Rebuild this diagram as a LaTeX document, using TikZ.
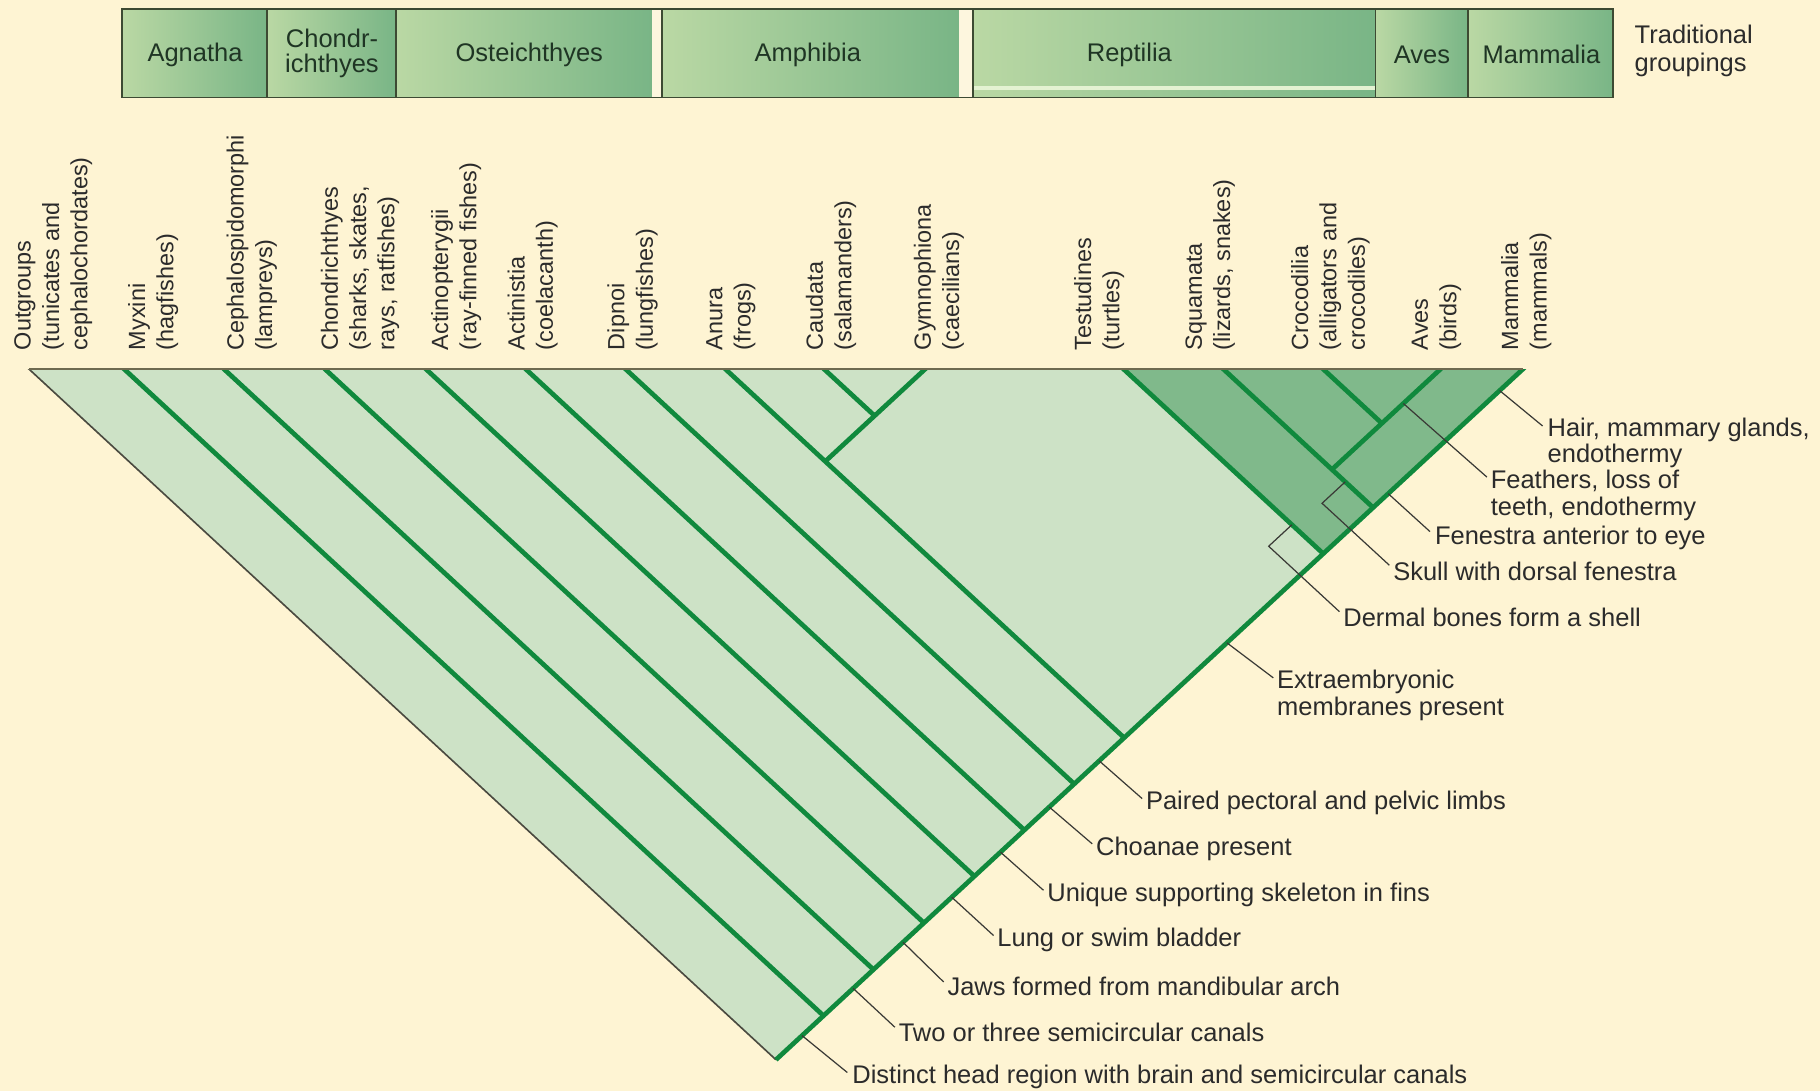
\documentclass[tikz,border=0pt]{standalone}
\usepackage{fontspec}
\setmainfont{Liberation Sans}
\usetikzlibrary{calc}
\definecolor{bg}{HTML}{FEF4D3}
\definecolor{lightfill}{HTML}{CDE2C6}
\definecolor{darkfill}{HTML}{80B98B}
\definecolor{branchc}{HTML}{10893D}
\definecolor{topedgec}{HTML}{6E6A50}
\definecolor{outc}{HTML}{4A4A40}
\definecolor{leadc}{HTML}{3A3A36}
\definecolor{textc}{HTML}{2B2B2B}
\definecolor{cellb}{HTML}{3D4A33}
\definecolor{cellL}{HTML}{BAD8A4}
\definecolor{cellR}{HTML}{79B586}
\definecolor{celltext}{HTML}{1F3524}
\definecolor{stripec}{HTML}{FDF6DE}
\definecolor{stripeg}{HTML}{E4F2D2}
\begin{document}
\begin{tikzpicture}[x=0.02cm,y=-0.02cm,
  branch/.style={draw=branchc,line width=2.3pt,line cap=butt,line join=miter},
  leader/.style={draw=leadc,line width=0.6pt},
  taxon/.style={rotate=90,anchor=north west,inner sep=0pt,align=left,text=textc,font=\fontsize{11.5}{13.9}\selectfont},
  trait/.style={anchor=west,inner sep=0pt,align=left,text=textc,font=\fontsize{12.5}{13.1}\selectfont},
  grp/.style={inner sep=0pt,align=center,text=celltext,font=\fontsize{12.5}{12.5}\selectfont},
  cellfill/.style={left color=cellL,right color=cellR},
  cellline/.style={draw=cellb,line width=0.9pt}
]
\useasboundingbox (0,0) rectangle (1568,940);
\fill[bg] (0,0) rectangle (1568,940);

% ---------- traditional groupings bar ----------
\shade[cellfill] (105,8) rectangle (230,84);
\shade[cellfill] (230,8) rectangle (341,84);
\shade[cellfill] (341,8) rectangle (562,84);
\fill[stripec] (562,8) rectangle (570,84);
\shade[cellfill] (570,8) rectangle (826,84);
\fill[stripec] (826,8) rectangle (838,84);
\shade[cellfill] (838,8) rectangle (1185,84);
\fill[stripeg] (838,74) rectangle (1185,77.5);
\shade[cellfill] (1185,8) rectangle (1265,84);
\shade[cellfill] (1265,8) rectangle (1390,84);
\draw[cellline] (105,8) rectangle (1390,84);
\foreach \xx in {230,341,570,838,1185,1265} \draw[cellline] (\xx,8) -- (\xx,84);

\node[grp] (gAgn) at (168,47) {Agnatha};
\node[grp] (gCho) at (286,46) {Chondr-\\ichthyes};
\node[grp] (gOst) at (456,47) {Osteichthyes};
\node[grp] (gAmp) at (696,47) {Amphibia};
\node[grp] (gRep) at (973,47) {Reptilia};
\node[grp] (gAve) at (1225,47) {Aves};
\node[grp] (gMam) at (1328,47) {Mammalia};
\node[anchor=west,inner sep=0pt,align=left,text=textc,font=\fontsize{12.5}{13.6}\selectfont] (gTrad) at (1408,44) {Traditional\\groupings};

% ---------- taxon labels ----------
\node[taxon] (lOut) at (12,302) {Outgroups\\(tunicates and\\cephalochordates)};
\node[taxon] (lMyx) at (110,302) {Myxini\\(hagfishes)};
\node[taxon] (lCep) at (195,302) {Cephalospidomorphi\\(lampreys)};
\node[taxon] (lCho) at (276,302) {Chondrichthyes\\(sharks, skates,\\rays, ratfishes)};
\node[taxon] (lAct) at (371,302) {Actinopterygii\\(ray-finned fishes)};
\node[taxon] (lAcs) at (437,302) {Actinistia\\(coelacanth)};
\node[taxon] (lDip) at (523,302) {Dipnoi\\(lungfishes)};
\node[taxon] (lAnu) at (608,302) {Anura\\(frogs)};
\node[taxon] (lCau) at (694,302) {Caudata\\(salamanders)};
\node[taxon] (lGym) at (787,302) {Gymnophiona\\(caecilians)};
\node[taxon] (lTes) at (925,302) {Testudines\\(turtles)};
\node[taxon] (lSqu) at (1021,302) {Squamata\\(lizards, snakes)};
\node[taxon] (lCro) at (1112,302) {Crocodilia\\(alligators and\\crocodiles)};
\node[taxon] (lAve) at (1216,302) {Aves\\(birds)};
\node[taxon] (lMam) at (1293,302) {Mammalia\\(mammals)};

% ---------- tree coordinates ----------
\coordinate (tOut) at (25,318);
\coordinate (tMyx) at (107,318);
\coordinate (tCep) at (193,318);
\coordinate (tCho) at (280,318);
\coordinate (tAct) at (367,318);
\coordinate (tAcs) at (453,318);
\coordinate (tDip) at (539,318);
\coordinate (tAnu) at (625,318);
\coordinate (tCau) at (710,318);
\coordinate (tGym) at (797,318);
\coordinate (tTes) at (968,318);
\coordinate (tSqu) at (1054,318);
\coordinate (tCro) at (1140,318);
\coordinate (tAve) at (1241,318);
\coordinate (tMam) at (1312,318);
\coordinate (nApex) at (668.5,913);
\coordinate (nMyx) at (709.5,875.1);
\coordinate (nCep) at (752.5,835.3);
\coordinate (nCho) at (796,795.1);
\coordinate (nAct) at (839.5,754.9);
\coordinate (nAcs) at (882.5,715.1);
\coordinate (nDip) at (925.5,675.4);
\coordinate (nAnu) at (968.5,635.6);
\coordinate (nLis) at (711,397.5);
\coordinate (nCG) at (753.5,358.2);
\coordinate (nTes) at (1140,477);
\coordinate (nSqu) at (1183,437.3);
\coordinate (nDia) at (1147.5,404.5);
\coordinate (nArc) at (1190.5,364.7);

% ---------- fills ----------
\fill[lightfill] (tOut) -- (tMam) -- (nApex) -- cycle;
\fill[darkfill] (tTes) -- (tMam) -- (nTes) -- cycle;

% ---------- branches ----------
\begin{scope}
\clip (0,318) rectangle (1568,940);
\draw[outc,line width=0.8pt] ($(tOut)!-6pt!(nApex)$) -- (nApex);
\draw[branch] (nApex) -- ($(tMam)!-8pt!(nApex)$);
\foreach \a/\b in {tMyx/nMyx,tCep/nCep,tCho/nCho,tAct/nAct,tAcs/nAcs,tDip/nDip,tAnu/nAnu,tCau/nCG,tGym/nLis,tTes/nTes,tSqu/nSqu,tCro/nArc,tAve/nDia}
  \draw[branch] ($(\a)!-6pt!(\b)$) -- (\b);
\end{scope}
\draw[topedgec,line width=1.1pt] (tOut) -- (tMam);

% ---------- character labels ----------
\node[trait] (cDis) at (734,928) {Distinct head region with brain and semicircular canals};
\node[trait] (cTwo) at (774,889) {Two or three semicircular canals};
\node[trait] (cJaw) at (816,850) {Jaws formed from mandibular arch};
\node[trait] (cLun) at (859,810) {Lung or swim bladder};
\node[trait] (cUni) at (902,771) {Unique supporting skeleton in fins};
\node[trait] (cCho) at (944,731) {Choanae present};
\node[trait] (cPai) at (987,692) {Paired pectoral and pelvic limbs};
\node[trait] (cExt) at (1100,599) {Extraembryonic\\membranes present};
\node[trait] (cDer) at (1157,532) {Dermal bones form a shell};
\node[trait] (cSku) at (1200,492) {Skull with dorsal fenestra};
\node[trait] (cFen) at (1236,463) {Fenestra anterior to eye};
\node[trait] (cFea) at (1284,426.5) {Feathers, loss of\\teeth, endothermy};
\node[trait] (cHai) at (1333,381.5) {Hair, mammary glands,\\endothermy};

% ---------- leaders ----------
\coordinate (sDis) at (691,892.2);   \coordinate (eDis) at (730,924);
\coordinate (sTwo) at (735,851.5);   \coordinate (eTwo) at (771,885);
\coordinate (sJaw) at (778,811.8);   \coordinate (eJaw) at (813,846);
\coordinate (sLun) at (820,773);     \coordinate (eLun) at (856,806);
\coordinate (sUni) at (862,734.2);   \coordinate (eUni) at (899,767);
\coordinate (sCho) at (904,695.3);   \coordinate (eCho) at (941,727);
\coordinate (sPai) at (947,655.5);   \coordinate (ePai) at (984,688);
\coordinate (sExt) at (1057,553.8);  \coordinate (eExt) at (1097,584);
\coordinate (sDer) at (1113,452.1);  \coordinate (kDer) at (1093,470.6); \coordinate (eDer) at (1154,527);
\coordinate (sSku) at (1159,415.1);  \coordinate (kSku) at (1139,433.6); \coordinate (eSku) at (1197,487);
\coordinate (sFen) at (1196,425.3);  \coordinate (eFen) at (1232,458);
\coordinate (sFea) at (1209,347.6);  \coordinate (eFea) at (1281,411);
\coordinate (sHai) at (1292,336.5);  \coordinate (eHai) at (1329,367);
\foreach \s in {Dis,Two,Jaw,Lun,Uni,Cho,Pai,Ext,Fen,Fea,Hai}
  \draw[leader] (s\s) -- (e\s);
\draw[leader] (sDer) -- (kDer) -- (eDer);
\draw[leader] (sSku) -- (kSku) -- (eSku);
\end{tikzpicture}
\end{document}
